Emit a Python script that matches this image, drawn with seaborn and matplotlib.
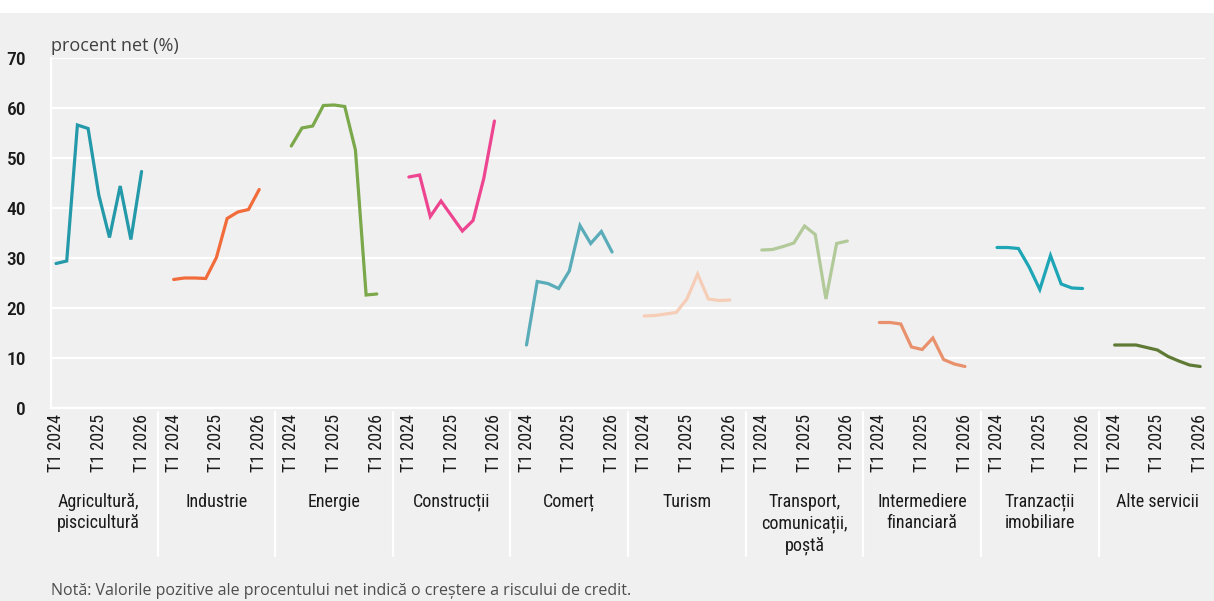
import matplotlib
matplotlib.use("Agg")
import matplotlib.pyplot as plt
import matplotlib.font_manager as fm
import matplotlib.transforms as mtransforms
import seaborn as sns
import pandas as pd
import numpy as np

# ---------------- data ----------------
sectors = ["Agricultură,\npiscicultură", "Industrie", "Energie", "Construcții", "Comerț",
           "Turism", "Transport,\ncomunicații,\npoștă", "Intermediere\nfinanciară",
           "Tranzacții\nimobiliare", "Alte servicii"]
quarters = ["T1 2024", "T2 2024", "T3 2024", "T4 2024", "T1 2025",
            "T2 2025", "T3 2025", "T4 2025", "T1 2026"]
tick_quarters = ["T1 2024", "T1 2025", "T1 2026"]

agricultura = [28.9, 29.4, 56.6, 55.9, 42.6, 34.1, 44.4, 33.7, 47.3]
industrie = [25.7, 26.0, 26.0, 25.9, 30.1, 37.9, 39.2, 39.7, 43.7]
energie = [52.4, 56.0, 56.4, 60.5, 60.6, 60.3, 51.6, 22.6, 22.8]
constructii = [46.2, 46.6, 38.3, 41.4, 38.4, 35.4, 37.5, 45.9, 57.4]
comert = [12.6, 25.3, 24.9, 23.9, 27.4, 36.5, 32.9, 35.3, 31.2]
turism = [18.4, 18.5, 18.8, 19.1, 21.8, 26.8, 21.8, 21.5, 21.6]
transport = [31.6, 31.7, 32.3, 33.0, 36.4, 34.7, 21.8, 32.9, 33.4]
intermediere = [17.1, 17.1, 16.8, 12.2, 11.7, 14.0, 9.7, 8.8, 8.3]
tranzactii = [32.1, 32.1, 31.9, 28.2, 23.7, 30.5, 24.8, 24.0, 23.9]
alte_servicii = [12.6, 12.6, 12.6, 12.1, 11.6, 10.3, 9.4, 8.6, 8.3]

series = [agricultura, industrie, energie, constructii, comert,
          turism, transport, intermediere, tranzactii, alte_servicii]

colors = ["#2499a9", "#f26b3a", "#7aa84a", "#ee4591", "#5aacb9",
          "#f6cdb6", "#b2c99a", "#e8916c", "#1ea5b6", "#5f7a35"]

# ---------------- fonts ----------------
names = {f.name for f in fm.fontManager.ttflist}
cond_kw = {}
for cand in ["Liberation Sans Narrow", "Roboto Condensed", "Open Sans Condensed",
             "Noto Sans Condensed"]:
    if cand in names:
        cond_kw = {"family": cand}
        break
if not cond_kw:
    has_dv_cond = any(f.name == "DejaVu Sans" and f.stretch == "condensed"
                      for f in fm.fontManager.ttflist)
    cond_kw = {"family": "DejaVu Sans", "stretch": "condensed"} if has_dv_cond else {"family": "DejaVu Sans"}

reg_family = "Open Sans" if "Open Sans" in names else "DejaVu Sans"

sns.set_theme(style="white")
plt.rcParams["font.family"] = [reg_family, "DejaVu Sans"]

BG = "#f0f0f0"
GAP = 2
NQ = len(quarters)
SLOT = NQ + GAP

rows = []
for g, (name, vals) in enumerate(zip(sectors, series)):
    for q, v in enumerate(vals):
        rows.append({"sector": name, "pos": g * SLOT + q, "value": v})
df = pd.DataFrame(rows)

W, H = 1214, 601
fig = plt.figure(figsize=(W / 100, H / 100), dpi=100, facecolor=BG)
# white strip at top
fig.patches.append(plt.Rectangle((0, 1 - 13 / H), 1, 13 / H, transform=fig.transFigure,
                                 facecolor="white", edgecolor="none", zorder=0))

ax_left, ax_right, ax_top, ax_bot = 51, 1205, 58, 408
ax = fig.add_axes([ax_left / W, 1 - ax_bot / H, (ax_right - ax_left) / W, (ax_bot - ax_top) / H])
ax.set_facecolor(BG)

sns.lineplot(data=df, x="pos", y="value", hue="sector", palette=colors,
             hue_order=sectors, ax=ax, linewidth=2.3, legend=False,
             solid_capstyle="round", solid_joinstyle="miter")

ax.set_xlim(-0.47, (len(sectors) - 1) * SLOT + NQ - 1 + 0.45)
ax.set_ylim(0, 70)
ax.set_yticks(np.arange(0, 71, 10))
ax.yaxis.grid(True, color="white", linewidth=1.6)
ax.set_axisbelow(True)
for s in ["top", "right"]:
    ax.spines[s].set_visible(False)
for s in ["left", "bottom"]:
    ax.spines[s].set_color("white")
    ax.spines[s].set_linewidth(1.6)
ax.tick_params(axis="y", length=6, width=1.6, color="white", pad=12,
               labelsize=14, labelcolor="#1a1a1a")
for lab in ax.get_yticklabels():
    lab.set_fontproperties(fm.FontProperties(size=14, weight="medium", **cond_kw))

# x ticks: T1 2024 / T1 2025 / T1 2026 for each sector
tick_pos, tick_lab = [], []
for g in range(len(sectors)):
    for t in tick_quarters:
        tick_pos.append(g * SLOT + quarters.index(t))
        tick_lab.append(t)
ax.set_xticks(tick_pos)
ax.set_xticklabels(tick_lab, rotation=90, va="top", ha="center")
ax.tick_params(axis="x", length=0, pad=4, labelcolor="#1a1a1a")
for lab in ax.get_xticklabels():
    lab.set_fontproperties(fm.FontProperties(size=13, **cond_kw))
ax.set_xlabel("")
ax.set_ylabel("")

trans = mtransforms.blended_transform_factory(ax.transData, ax.transAxes)
px = 1 / (ax_bot - ax_top)
# separators in label area
for g in range(1, len(sectors)):
    xsep = g * SLOT - GAP / 2 - 0.5
    ax.plot([xsep, xsep], [-4 * px, -148 * px], transform=trans, color="white",
            linewidth=1.6, clip_on=False)

# sector labels
for g, name in enumerate(sectors):
    ax.text(g * SLOT + (NQ - 1) / 2, -85 * px, name, transform=trans, ha="center", va="top",
            fontproperties=fm.FontProperties(size=13, **cond_kw), color="#1a1a1a",
            linespacing=1.25)

fig.text(ax_left / W, 1 - 46 / H, "procent net (%)", ha="left", va="center",
         fontsize=13, color="#404040")
fig.text(ax_left / W, 1 - 591 / H,
         "Notă: Valorile pozitive ale procentului net indică o creștere a riscului de credit.",
         ha="left", va="center", fontsize=11.5, color="#4d4d4d")

fig.savefig("out.png", dpi=100, facecolor=BG)
